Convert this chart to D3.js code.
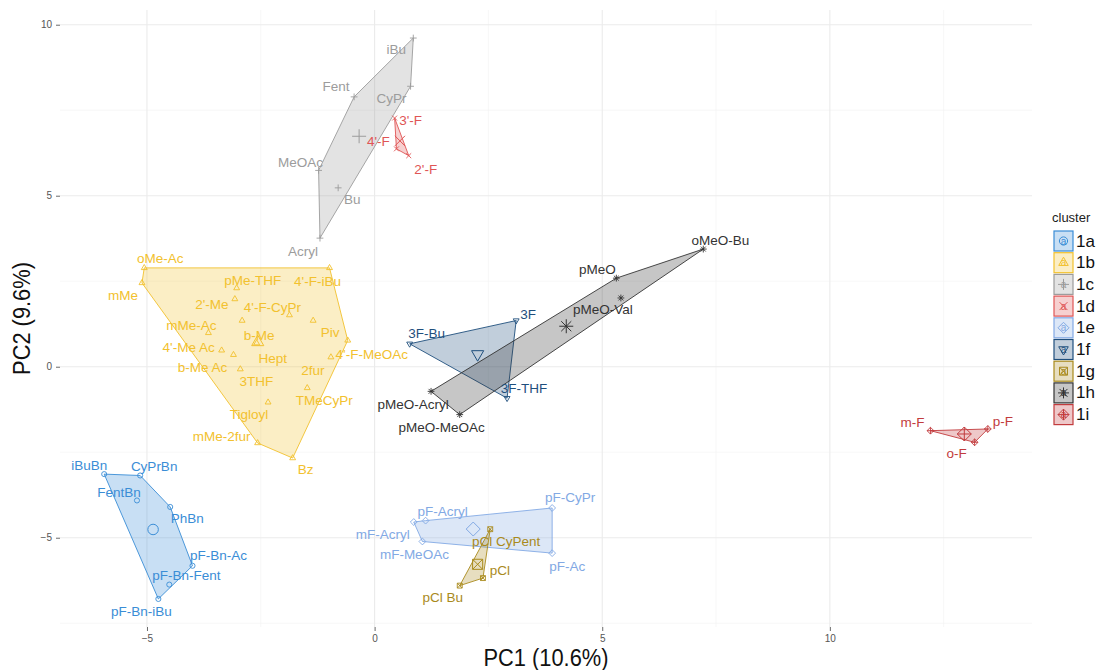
<!DOCTYPE html>
<html>
<head>
<meta charset="utf-8">
<script src="https://cdn.jsdelivr.net/npm/d3@7"></script>
<style>
  body { margin: 0; background: #fff; }
  svg { display: block; font-family: "Liberation Sans", Arial, sans-serif; }
</style>
</head>
<body>
<svg id="chart" width="1099" height="670"></svg>
<script>
// ---- data -------------------------------------------------------------
const clusters = ["1a", "1b", "1c", "1d", "1e", "1f", "1g", "1h", "1i"];
const clusterColors = ["#3A8DD6", "#F2C12E", "#9C9C9C", "#E05555", "#82A9E4",
                       "#1F4F7D", "#A98A1C", "#333333", "#C23B3D"];
const clusterShapes = [1, 2, 3, 4, 5, 6, 7, 8, 9];   // R pch codes

const sampleNames = [
  "iBuBn", "CyPrBn", "FentBn", "PhBn", "pF-Bn-Ac", "pF-Bn-Fent", "pF-Bn-iBu",
  "oMe-Ac", "mMe", "4'-F-iBu", "pMe-THF", "2'-Me", "4'-F-CyPr", "b-Me", "mMe-Ac",
  "Piv", "Hept", "4'-F-MeOAc", "4'-Me Ac", "b-Me Ac", "2fur", "3THF", "TMeCyPr",
  "Tigloyl", "mMe-2fur", "Bz",
  "iBu", "CyPr", "Fent", "MeOAc", "Bu", "Acryl",
  "3'-F", "4'-F", "2'-F",
  "pF-Acryl", "mF-Acryl", "mF-MeOAc", "pF-CyPr", "pF-Ac",
  "3F", "3F-Bu", "3F-THF",
  "pCl CyPent", "pCl", "pCl Bu",
  "oMeO-Bu", "pMeO", "pMeO-Val", "pMeO-Acryl", "pMeO-MeOAc",
  "m-F", "p-F", "o-F"
];
const sampleCluster = [
  "1a", "1a", "1a", "1a", "1a", "1a", "1a",
  "1b", "1b", "1b", "1b", "1b", "1b", "1b", "1b", "1b", "1b", "1b", "1b", "1b",
  "1b", "1b", "1b", "1b", "1b", "1b",
  "1c", "1c", "1c", "1c", "1c", "1c",
  "1d", "1d", "1d",
  "1e", "1e", "1e", "1e", "1e",
  "1f", "1f", "1f",
  "1g", "1g", "1g",
  "1h", "1h", "1h", "1h", "1h",
  "1i", "1i", "1i"
];
const pc1 = [
  -5.94, -5.15, -5.22, -4.49, -4.00, -4.51, -4.75,
  -5.06, -5.11, -0.99, -3.03, -3.07, -1.87, -2.91, -3.65, -1.35, -2.59, -0.59,
  -3.36, -3.10, -0.96, -2.95, -1.48, -2.34, -2.57, -1.80,
  0.85, 0.79, -0.45, -1.23, -0.80, -1.20,
  0.44, 0.48, 0.75,
  1.12, 0.86, 1.05, 3.90, 3.90,
  3.11, 0.77, 2.91,
  2.54, 2.38, 1.87,
  7.22, 5.31, 5.41, 1.24, 1.87,
  12.21, 13.47, 13.18
];
const pc2 = [
  -3.14, -3.18, -3.91, -4.10, -5.82, -6.37, -6.79,
  2.89, 2.45, 2.89, 2.30, 1.98, 1.51, 1.35, 0.99, 1.35, 0.69, 0.77,
  0.48, 0.35, 0.28, -0.07, -0.62, -1.04, -2.23, -2.67,
  9.61, 8.20, 7.89, 5.74, 5.23, 3.76,
  7.27, 6.37, 6.17,
  -4.50, -4.54, -5.11, -4.13, -5.45,
  1.35, 0.67, -0.92,
  -4.75, -6.18, -6.40,
  3.44, 2.59, 2.01, -0.72, -1.40,
  -1.87, -1.82, -2.21
];
const xTicks = [-5, 0, 5, 10];
const yTicks = [-5, 0, 5, 10];
const xTitle = "PC1 (10.6%)";
const yTitle = "PC2 (9.6%)";
const legendTitle = "cluster";

// ---- label placement (pixel nudges from each point) -------------------
const labelNudge = {
  "iBuBn": [-15, -9], "CyPrBn": [14, -9], "FentBn": [-18, -8], "PhBn": [17, 12],
  "pF-Bn-Ac": [26, -10], "pF-Bn-Fent": [17, -9], "pF-Bn-iBu": [-17, 13],
  "oMe-Ac": [16, -9], "mMe": [-19, 13], "pMe-THF": [16, -8], "4'-F-iBu": [-12, 14],
  "2'-Me": [-23, 5], "4'-F-CyPr": [-17, -8], "mMe-Ac": [-17, -7], "b-Me": [17, 15],
  "Hept": [16, 15], "Piv": [17, 12], "4'-Me Ac": [-33, -3], "4'-F-MeOAc": [24, 14],
  "2fur": [-18, 13], "b-Me Ac": [-31, 13], "3THF": [16, 12], "TMeCyPr": [17, 13],
  "Tigloyl": [-19, 12], "mMe-2fur": [-36, -6], "Bz": [13, 11],
  "iBu": [-17, 11], "CyPr": [-19, 12], "Fent": [-18, -10], "MeOAc": [-18, -8],
  "Bu": [14, 12], "Acryl": [-17, 13],
  "3'-F": [16, 2], "4'-F": [-18, -7], "2'-F": [17, 14],
  "pF-Acryl": [17, -9], "mF-Acryl": [-31, 12], "mF-MeOAc": [-8, 13],
  "pF-CyPr": [18, -10], "pF-Ac": [15, 13],
  "3F": [12, -6], "3F-Bu": [17, -10], "3F-THF": [17, -10],
  "pCl CyPent": [16, 12], "pCl": [17, -8], "pCl Bu": [-17, 12],
  "oMeO-Bu": [17, -9], "pMeO": [-19, -9], "pMeO-Val": [-18, 12],
  "pMeO-Acryl": [-18, 13], "pMeO-MeOAc": [-18, 13],
  "m-F": [-18, -8], "p-F": [15, -7], "o-F": [-18, 11]
};

// ---- layout ------------------------------------------------------------
const panel = { left: 60, right: 1032, top: 10, bottom: 627 };
const svg = d3.select("#chart");

const samples = sampleNames.map((name, i) => ({
  name, cluster: sampleCluster[i], x: pc1[i], y: pc2[i]
}));

function expanded(ext) {
  const pad = (ext[1] - ext[0]) * 0.05;
  return [ext[0] - pad, ext[1] + pad];
}
const x = d3.scaleLinear().domain(expanded(d3.extent(pc1))).range([panel.left, panel.right]);
const y = d3.scaleLinear().domain(expanded(d3.extent(pc2))).range([panel.bottom, panel.top]);

const colorOf = d3.scaleOrdinal().domain(clusters).range(clusterColors);
const shapeOf = d3.scaleOrdinal().domain(clusters).range(clusterShapes);

// ---- symbol paths (R pch style) ---------------------------------------
function symbolPath(pch, h) {
  const p = d3.path();
  const tri = (dir) => {
    p.moveTo(0, -h * dir);
    p.lineTo(0.866 * h, 0.5 * h * dir);
    p.lineTo(-0.866 * h, 0.5 * h * dir);
    p.closePath();
  };
  const plus = (s) => { p.moveTo(-s, 0); p.lineTo(s, 0); p.moveTo(0, -s); p.lineTo(0, s); };
  const cross = (s) => { p.moveTo(-s, -s); p.lineTo(s, s); p.moveTo(-s, s); p.lineTo(s, -s); };
  const diamond = (s) => { p.moveTo(0, -s); p.lineTo(s, 0); p.lineTo(0, s); p.lineTo(-s, 0); p.closePath(); };
  switch (pch) {
    case 1: p.moveTo(h * 0.75, 0); p.arc(0, 0, h * 0.75, 0, 2 * Math.PI); break;
    case 2: tri(1); break;
    case 3: plus(h); break;
    case 4: cross(h * 0.72); break;
    case 5: diamond(h); break;
    case 6: tri(-1); break;
    case 7: { const s = h * 0.72; p.rect(-s, -s, 2 * s, 2 * s); cross(s); break; }
    case 8: plus(h); cross(h * 0.72); break;
    case 9: diamond(h); plus(h); break;
  }
  return p.toString();
}

// ---- grid ---------------------------------------------------------------
const grid = svg.append("g");
const minorX = d3.range(-7.5, 15, 5).filter(v => x(v) >= panel.left && x(v) <= panel.right);
const minorY = d3.range(-7.5, 12, 5).filter(v => y(v) >= panel.top && y(v) <= panel.bottom);
grid.selectAll(".mx").data(minorX).join("line")
  .attr("x1", d => x(d)).attr("x2", d => x(d)).attr("y1", panel.top).attr("y2", panel.bottom)
  .attr("stroke", "#f2f2f2").attr("stroke-width", 0.6);
grid.selectAll(".my").data(minorY).join("line")
  .attr("y1", d => y(d)).attr("y2", d => y(d)).attr("x1", panel.left).attr("x2", panel.right)
  .attr("stroke", "#f2f2f2").attr("stroke-width", 0.6);
grid.selectAll(".gx").data(xTicks).join("line")
  .attr("x1", d => x(d)).attr("x2", d => x(d)).attr("y1", panel.top).attr("y2", panel.bottom)
  .attr("stroke", "#ebebeb").attr("stroke-width", 1.1);
grid.selectAll(".gy").data(yTicks).join("line")
  .attr("y1", d => y(d)).attr("y2", d => y(d)).attr("x1", panel.left).attr("x2", panel.right)
  .attr("stroke", "#ebebeb").attr("stroke-width", 1.1);

// ---- axes ---------------------------------------------------------------
const xAxis = svg.append("g").attr("transform", `translate(0,${panel.bottom})`)
  .call(d3.axisBottom(x).tickValues(xTicks).tickSize(4).tickPadding(4));
const yAxis = svg.append("g").attr("transform", `translate(${panel.left},0)`)
  .call(d3.axisLeft(y).tickValues(yTicks).tickSize(4).tickPadding(4));
[xAxis, yAxis].forEach(a => {
  a.select(".domain").remove();
  a.selectAll(".tick line").attr("stroke", "#444").attr("stroke-width", 0.8);
  a.selectAll(".tick text").attr("fill", "#555").style("font-size", "10px")
    .style("font-family", "'Liberation Sans', Arial, sans-serif");
});

svg.append("text")
  .attr("transform", `translate(${(panel.left + panel.right) / 2},666) scale(0.91,1)`)
  .attr("text-anchor", "middle").attr("fill", "#111").style("font-size", "24px")
  .text(xTitle);
svg.append("text")
  .attr("transform", `translate(30,${(panel.top + panel.bottom) / 2}) rotate(-90) scale(0.91,1)`)
  .attr("text-anchor", "middle").attr("fill", "#111").style("font-size", "24px")
  .text(yTitle);

// ---- hulls --------------------------------------------------------------
const byCluster = d3.group(samples, d => d.cluster);
const hullLayer = svg.append("g");
clusters.forEach(c => {
  const pts = (byCluster.get(c) || []).map(d => [x(d.x), y(d.y)]);
  const hull = d3.polygonHull(pts);
  if (!hull) return;
  hullLayer.append("path")
    .attr("d", "M" + hull.join("L") + "Z")
    .attr("fill", colorOf(c)).attr("fill-opacity", 0.28)
    .attr("stroke", colorOf(c)).attr("stroke-width", 0.9);
});

// ---- points -------------------------------------------------------------
svg.append("g").selectAll("path").data(samples).join("path")
  .attr("transform", d => `translate(${x(d.x)},${y(d.y)})`)
  .attr("d", d => symbolPath(shapeOf(d.cluster), 3.4))
  .attr("fill", "none").attr("stroke", d => colorOf(d.cluster)).attr("stroke-width", 0.9);

// ---- centroids ----------------------------------------------------------
const centroids = clusters.map(c => {
  const g = byCluster.get(c);
  return { cluster: c, x: d3.mean(g, d => d.x), y: d3.mean(g, d => d.y) };
});
svg.append("g").selectAll("path").data(centroids).join("path")
  .attr("transform", d => `translate(${x(d.x)},${y(d.y)})`)
  .attr("d", d => symbolPath(shapeOf(d.cluster), 7))
  .attr("fill", "none").attr("stroke", d => colorOf(d.cluster)).attr("stroke-width", 1);

// ---- labels -------------------------------------------------------------
svg.append("g").selectAll("text").data(samples).join("text")
  .attr("x", d => x(d.x) + (labelNudge[d.name] || [0, 0])[0])
  .attr("y", d => y(d.y) + (labelNudge[d.name] || [0, 0])[1])
  .attr("text-anchor", "middle").attr("dominant-baseline", "central")
  .attr("fill", d => colorOf(d.cluster)).style("font-size", "13.5px")
  .text(d => d.name);

// ---- legend -------------------------------------------------------------
const legend = svg.append("g").attr("transform", "translate(1052,0)");
legend.append("text").attr("x", 0).attr("y", 222).attr("fill", "#222")
  .style("font-size", "13px").text(legendTitle);
const key = legend.selectAll("g.key").data(clusters).join("g")
  .attr("transform", (d, i) => `translate(0,${241 + i * 21.7})`);
key.append("rect").attr("x", 2).attr("y", -10).attr("width", 19).attr("height", 20)
  .attr("fill", d => colorOf(d)).attr("fill-opacity", 0.28)
  .attr("stroke", d => colorOf(d)).attr("stroke-width", 1.2);
key.append("path").attr("transform", "translate(11.5,0)")
  .attr("d", d => symbolPath(shapeOf(d), 5.5))
  .attr("fill", "none").attr("stroke", d => colorOf(d)).attr("stroke-width", 1);
key.append("text").attr("x", 11.5).attr("y", 0).attr("text-anchor", "middle")
  .attr("dominant-baseline", "central").attr("fill", d => colorOf(d))
  .style("font-size", "10px").text("a");
key.append("text").attr("x", 24).attr("y", 0).attr("dominant-baseline", "central")
  .attr("fill", "#111").style("font-size", "17px").text(d => d);
</script>
</body>
</html>
